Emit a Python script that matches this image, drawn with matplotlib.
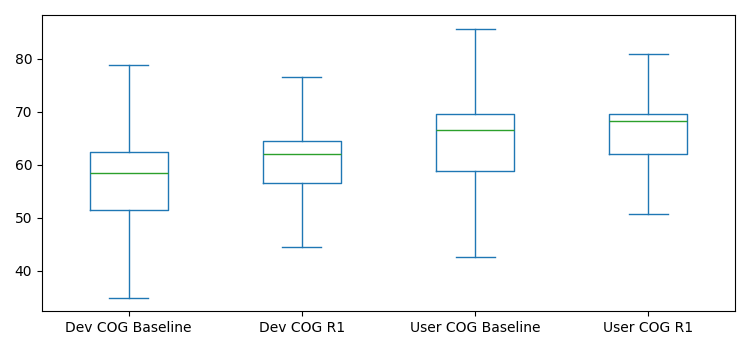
import matplotlib
matplotlib.use("Agg")
import matplotlib.pyplot as plt

# values
labels = ["Dev COG Baseline", "Dev COG R1", "User COG Baseline", "User COG R1"]
whislo = [34.9, 44.5, 42.6, 50.7]
q1 = [51.5, 56.6, 58.8, 62.0]
med = [58.4, 62.0, 66.5, 68.2]
q3 = [62.4, 64.4, 69.5, 69.5]
whishi = [78.9, 76.5, 85.7, 80.8]

stats = []
for i in range(len(labels)):
    stats.append({"label": labels[i], "whislo": whislo[i], "q1": q1[i], "med": med[i],
                  "q3": q3[i], "whishi": whishi[i], "fliers": []})

fig, ax = plt.subplots(figsize=(7.5, 3.5), dpi=100)
ax.bxp(stats, showfliers=False,
       boxprops=dict(color="C0"), whiskerprops=dict(color="C0"),
       capprops=dict(color="C0"), medianprops=dict(color="C2"))
ax.set_yticks([40, 50, 60, 70, 80])
fig.subplots_adjust(left=0.056, right=0.98, top=0.957, bottom=0.111)
fig.savefig("out.png")
